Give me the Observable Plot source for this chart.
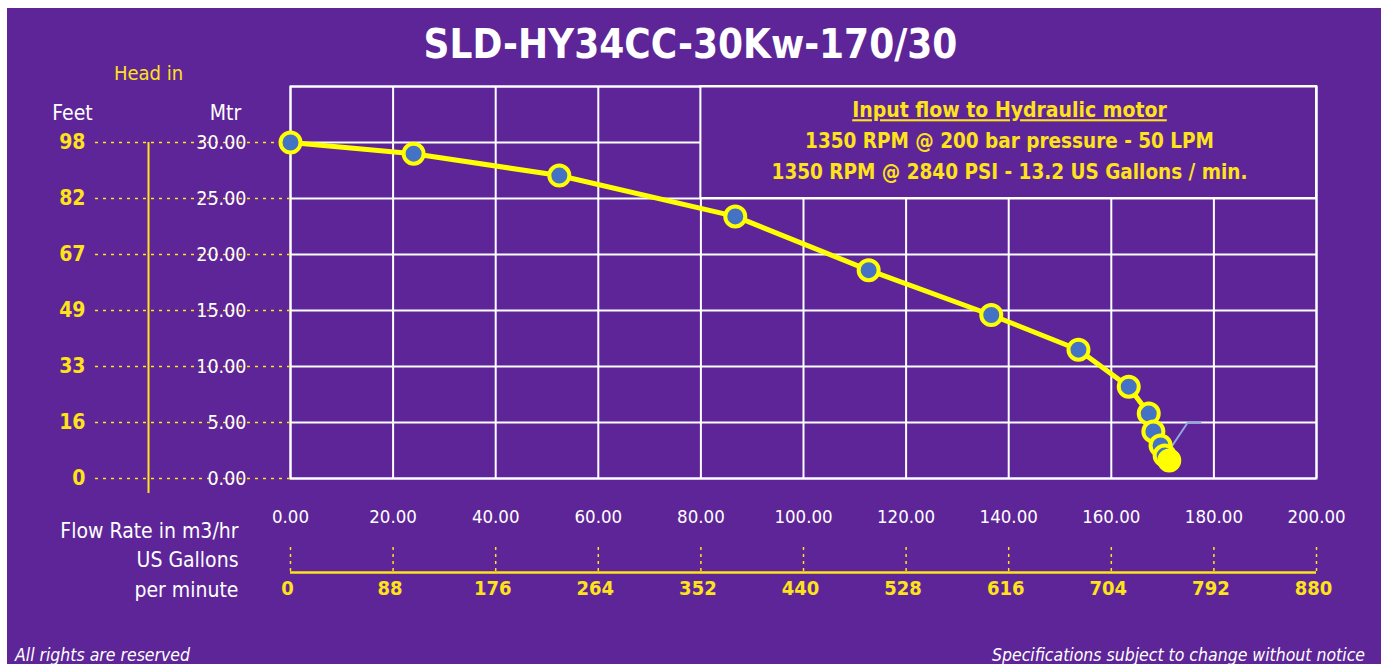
<!DOCTYPE html>
<html>
<head>
<meta charset="utf-8">
<script src="https://cdn.jsdelivr.net/npm/d3@7"></script>
<script src="https://cdn.jsdelivr.net/npm/@observablehq/plot@0.6"></script>
<style>
  html, body { margin:0; padding:0; background:#fff; }
  body { width:1381px; height:664px; position:relative; overflow:hidden; font-family:"DejaVu Sans Condensed","DejaVu Sans",sans-serif; }
  #panel { position:absolute; left:7px; top:8px; width:1374px; height:656px; background:#5E2598; }
  #title { position:absolute; left:0; width:1381px; top:21px; text-align:center; color:#fff; font-weight:bold; font-size:40px; }
  #chart { position:absolute; left:0; top:0; }
  .foot { position:absolute; top:645px; color:#fff; font-style:italic; font-size:17.5px; }
</style>
</head>
<body>
<div id="panel"></div>
<div id="chart"></div>
<div id="title">SLD-HY34CC-30Kw-170/30</div>
<div class="foot" style="left:15px">All rights are reserved</div>
<div class="foot" style="right:16px">Specifications subject to change without notice</div>
<script>
const xTicks = [0, 20, 40, 60, 80, 100, 120, 140, 160, 180, 200];
const gallons = [0, 88, 176, 264, 352, 440, 528, 616, 704, 792, 880];
const yTicks = [0, 5, 10, 15, 20, 25, 30];
const yGrid = [0, 5, 10, 15, 20, 25, 30, 35];
const feet = [0, 16, 33, 49, 67, 82, 98];
const flow = [0, 24.0, 52.4, 86.7, 112.7, 136.6, 153.6, 163.4, 167.3, 168.2, 169.6, 170.4, 171.3];
const head = [30, 29.0, 27.05, 23.4, 18.6, 14.6, 11.5, 8.2, 5.8, 4.2, 2.95, 2.05, 1.6];
const leaderX = [170.6, 174.9, 177.4];
const leaderY = [2.05, 5.0, 5.0];
const noteBox = [{x1: 80, x2: 200, y1: 25, y2: 35}];
const noteLines = ["Input flow to Hydraulic motor", "1350 RPM @ 200 bar pressure - 50 LPM", "1350 RPM @ 2840 PSI - 13.2 US Gallons / min."];

const data = flow.map((f, i) => ({flow: f, head: head[i], last: i === flow.length - 1}));
const leader = leaderX.map((x, i) => ({x, y: leaderY[i]}));

const PURPLE = "#5E2598";
const YEL = "#FFE31A";
const LINEY = "#FFFF00";
const FONT = '"DejaVu Sans Condensed","DejaVu Sans",sans-serif';

const T = (txt, o) => Plot.text([txt], {lineAnchor: "middle", ...o});

const chart = Plot.plot({
  width: 1381, height: 664,
  marginLeft: 290, marginRight: 65, marginTop: 86, marginBottom: 186,
  x: {domain: [0, 200]},
  y: {domain: [0, 35]},
  style: {background: "transparent", fontFamily: FONT, overflow: "visible"},
  marks: [
    Plot.ruleX(xTicks, {stroke: "white", strokeWidth: 2}),
    Plot.ruleY(yGrid, {stroke: "white", strokeWidth: 2}),
    Plot.rect(noteBox, {x1: "x1", x2: "x2", y1: "y1", y2: "y2", fill: PURPLE, stroke: "white", strokeWidth: 2}),
    Plot.frame({stroke: "white", strokeWidth: 2}),
    // dotted leader lines to the left axis
    Plot.axisY(yTicks, {tickSize: 200, tickFormat: () => "", label: null, stroke: YEL, strokeWidth: 1.5, strokeDasharray: "3,5"}),
    Plot.ruleX([0], {y1: -1.35, y2: 30, dx: -142, stroke: YEL, strokeWidth: 2}),
    Plot.axisY(yTicks, {tickSize: 0, tickPadding: 44, tickFormat: d => d.toFixed(2), label: null, fill: "white", fontSize: 19.5}),
    Plot.axisY(yTicks, {tickSize: 0, tickPadding: 205, tickFormat: d => String(feet[yTicks.indexOf(d)]), label: null, fill: YEL, fontSize: 21, fontWeight: "bold"}),
    T("Head in", {frameAnchor: "top-left", textAnchor: "middle", dx: -142, dy: -13, fill: YEL, fontSize: 20}),
    T("Feet", {frameAnchor: "top-left", textAnchor: "middle", dx: -218, dy: 27, fill: "white", fontSize: 21}),
    T("Mtr", {frameAnchor: "top-left", textAnchor: "middle", dx: -65, dy: 27, fill: "white", fontSize: 21}),
    // bottom axes
    Plot.axisX(xTicks, {tickSize: 0, tickPadding: 31, tickFormat: d => d.toFixed(2), label: null, fill: "white", fontSize: 18.5}),
    Plot.axisX(xTicks, {tickSize: 25, dy: 69, tickFormat: () => "", label: null, stroke: YEL, strokeWidth: 1.5, strokeDasharray: "3,4"}),
    Plot.ruleY([0], {dy: 94, stroke: YEL, strokeWidth: 2.5}),
    Plot.axisX(xTicks, {tickSize: 0, tickPadding: 102, dx: -3, tickFormat: d => String(gallons[xTicks.indexOf(d)]), label: null, fill: YEL, fontSize: 20, fontWeight: "bold"}),
    T("Flow Rate in m3/hr", {frameAnchor: "bottom-left", dx: -52, dy: 53, textAnchor: "end", fill: "white", fontSize: 21}),
    T("US Gallons", {frameAnchor: "bottom-left", dx: -52, dy: 82, textAnchor: "end", fill: "white", fontSize: 21}),
    T("per minute", {frameAnchor: "bottom-left", dx: -52, dy: 112, textAnchor: "end", fill: "white", fontSize: 21}),
    // note box text
    T(noteLines[0], {frameAnchor: "top-right", textAnchor: "middle", dx: -307, dy: 24, fill: YEL, fontSize: 21, fontWeight: "bold"}),
    T(noteLines[1], {frameAnchor: "top-right", textAnchor: "middle", dx: -307, dy: 55, fill: YEL, fontSize: 20.5, fontWeight: "bold"}),
    T(noteLines[2], {frameAnchor: "top-right", textAnchor: "middle", dx: -307, dy: 86, fill: YEL, fontSize: 20.5, fontWeight: "bold"}),
    // curve
    Plot.line(leader, {x: "x", y: "y", stroke: "#8FAADC", strokeWidth: 2}),
    Plot.line(data, {x: "flow", y: "head", stroke: LINEY, strokeWidth: 5}),
    Plot.dot(data, {x: "flow", y: "head", r: 10, fill: d => d.last ? LINEY : "#4472C4", stroke: LINEY, strokeWidth: 4})
  ]
});
document.getElementById("chart").appendChild(chart);
d3.select(chart).selectAll("text").filter(function() { return this.textContent === noteLines[0]; })
  .attr("text-decoration", "underline");
</script>
</body>
</html>
